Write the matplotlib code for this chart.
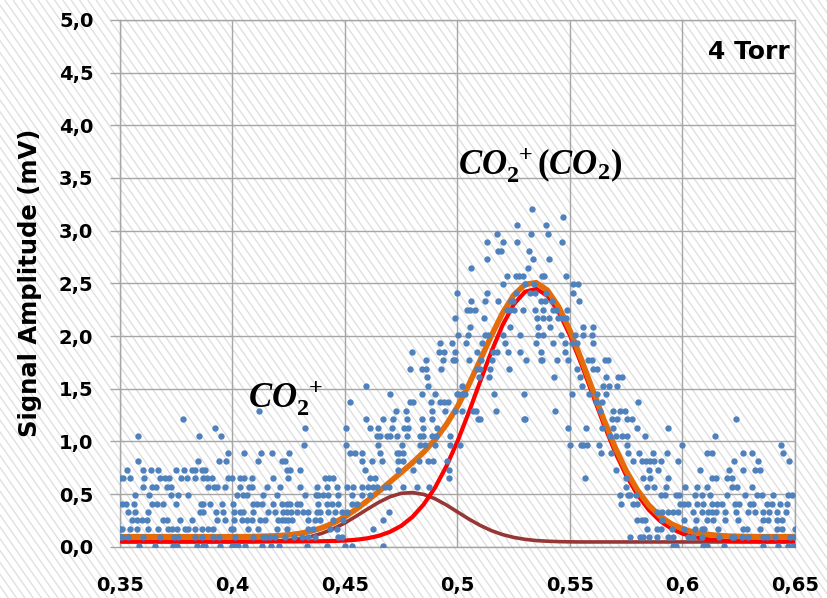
import numpy as np
import matplotlib
matplotlib.use("Agg")
import matplotlib.pyplot as plt
from matplotlib.collections import LineCollection

# quantised signal levels (mV) and the time-of-flight positions (us) of the samples on each level
levels = [0.01, 0.09, 0.17, 0.25, 0.33, 0.41, 0.49, 0.57, 0.65, 0.73,
          0.81, 0.89, 0.97, 1.05, 1.13, 1.21, 1.29, 1.37, 1.45, 1.53,
          1.61, 1.69, 1.77, 1.85, 1.93, 2.01, 2.09, 2.17, 2.25, 2.33,
          2.41, 2.49, 2.57, 2.65, 2.73, 2.81, 2.89, 2.97, 3.05, 3.13, 3.21]

samples = [
    [0.3584, 0.3656, 0.3736, 0.3753, 0.3842, 0.3870, 0.3878, 0.3944, 0.3996, 0.4011, 0.4026, 0.4056,
     0.4130, 0.4170, 0.4208, 0.4330, 0.4419, 0.4500, 0.4530, 0.4670, 0.5958, 0.5970, 0.6089, 0.6111,
     0.6184, 0.6359, 0.6426, 0.6470, 0.6490],
    [0.3500, 0.3509, 0.3536, 0.3602, 0.3678, 0.3740, 0.3758, 0.3833, 0.3864, 0.3912, 0.3941, 0.4011,
     0.4093, 0.4137, 0.4149, 0.4167, 0.4189, 0.4233, 0.4275, 0.4308, 0.4337, 0.4367, 0.4470, 0.4485,
     0.5767, 0.5811, 0.5826, 0.5851, 0.5885, 0.5937, 0.5960, 0.6026, 0.6048, 0.6088, 0.6163, 0.6219,
     0.6229, 0.6263, 0.6293, 0.6356, 0.6377, 0.6411, 0.6478, 0.6496],
    [0.3500, 0.3510, 0.3544, 0.3574, 0.3623, 0.3670, 0.3715, 0.3730, 0.3752, 0.3789, 0.3804, 0.3833,
     0.3866, 0.3892, 0.3912, 0.3992, 0.4004, 0.4070, 0.4115, 0.4196, 0.4244, 0.4337, 0.4359, 0.4433,
     0.4463, 0.4626, 0.5841, 0.5885, 0.5904, 0.5952, 0.6008, 0.6056, 0.6085, 0.6097, 0.6159, 0.6270,
     0.6288, 0.6344, 0.6419, 0.6441, 0.6500],
    [0.3555, 0.3574, 0.3596, 0.3619, 0.3692, 0.3710, 0.3767, 0.3821, 0.3930, 0.3967, 0.4007, 0.4041,
     0.4063, 0.4085, 0.4122, 0.4144, 0.4204, 0.4219, 0.4233, 0.4248, 0.4263, 0.4337, 0.4367, 0.4389,
     0.4448, 0.4493, 0.4670, 0.5800, 0.5819, 0.5833, 0.5910, 0.6008, 0.6059, 0.6107, 0.6137, 0.6189,
     0.6248, 0.6359, 0.6381, 0.6419, 0.6441],
    [0.3534, 0.3567, 0.3623, 0.3856, 0.3870, 0.3927, 0.3959, 0.4008, 0.4033, 0.4048, 0.4093, 0.4159,
     0.4189, 0.4226, 0.4244, 0.4260, 0.4285, 0.4315, 0.4337, 0.4374, 0.4389, 0.4426, 0.4456, 0.4485,
     0.4508, 0.4697, 0.5885, 0.5907, 0.5937, 0.5959, 0.5981, 0.6048, 0.6085, 0.6115, 0.6133, 0.6149,
     0.6189, 0.6238, 0.6293, 0.6322, 0.6356, 0.6386, 0.6419, 0.6460],
    [0.3510, 0.3527, 0.3562, 0.3641, 0.3663, 0.3692, 0.3749, 0.3860, 0.3870, 0.3900, 0.3952, 0.4004,
     0.4093, 0.4108, 0.4130, 0.4181, 0.4219, 0.4241, 0.4256, 0.4285, 0.4300, 0.4381, 0.4419, 0.4441,
     0.4470, 0.4530, 0.4552, 0.5726, 0.5780, 0.5796, 0.5989, 0.6008, 0.6023, 0.6063, 0.6093, 0.6130,
     0.6152, 0.6174, 0.6233, 0.6252, 0.6300, 0.6315, 0.6377, 0.6396, 0.6433, 0.6466],
    [0.3567, 0.3630, 0.3727, 0.3759, 0.3804, 0.4021, 0.4048, 0.4063, 0.4137, 0.4196, 0.4322, 0.4370,
     0.4381, 0.4401, 0.4426, 0.4470, 0.4530, 0.4574, 0.4611, 0.5722, 0.5759, 0.5767, 0.5792, 0.5904,
     0.5922, 0.5970, 0.5984, 0.6056, 0.6088, 0.6122, 0.6196, 0.6278, 0.6330, 0.6352, 0.6404, 0.6470,
     0.6485],
    [0.3601, 0.3641, 0.3659, 0.3708, 0.3727, 0.3892, 0.3919, 0.3932, 0.3967, 0.4033, 0.4075, 0.4088,
     0.4152, 0.4211, 0.4300, 0.4374, 0.4419, 0.4463, 0.4508, 0.4537, 0.4574, 0.4604, 0.4626, 0.4644,
     0.4678, 0.4697, 0.4759, 0.4819, 0.4875, 0.5749, 0.5841, 0.5875, 0.5927, 0.6011, 0.6063, 0.6107,
     0.6219, 0.6241, 0.6308],
    [0.3500, 0.3515, 0.3544, 0.3608, 0.3678, 0.3700, 0.3719, 0.3771, 0.3796, 0.3833, 0.3870, 0.3888,
     0.3910, 0.3981, 0.3999, 0.4033, 0.4052, 0.4085, 0.4179, 0.4248, 0.4411, 0.4429, 0.4448, 0.4611,
     0.4633, 0.4964, 0.5567, 0.5749, 0.5826, 0.5856, 0.5934, 0.6133, 0.6149, 0.6199, 0.6219],
    [0.3532, 0.3604, 0.3638, 0.3670, 0.3749, 0.3786, 0.3821, 0.3833, 0.3866, 0.3878, 0.4244, 0.4256,
     0.4300, 0.4589, 0.4737, 0.4804, 0.4962, 0.5704, 0.5851, 0.5893, 0.6078, 0.6208, 0.6270, 0.6322,
     0.6344],
    [0.3581, 0.3845, 0.3941, 0.3971, 0.4115, 0.4221, 0.4233, 0.4577, 0.4621, 0.4663, 0.4737, 0.4759,
     0.4830, 0.4870, 0.4893, 0.4952, 0.5781, 0.5819, 0.5836, 0.5856, 0.5873, 0.5904, 0.5981, 0.6229,
     0.6337, 0.6475],
    [0.3981, 0.4052, 0.4125, 0.4174, 0.4252, 0.4522, 0.4544, 0.4577, 0.4656, 0.4730, 0.4741, 0.4759,
     0.5637, 0.5681, 0.5759, 0.5807, 0.5870, 0.5930, 0.6107, 0.6133, 0.6270, 0.6308, 0.6445],
    [0.4319, 0.4504, 0.4648, 0.4752, 0.4833, 0.4856, 0.4900, 0.4967, 0.5011, 0.5500, 0.5548, 0.5559,
     0.5574, 0.5630, 0.5755, 0.6000, 0.6438],
    [0.3579, 0.3850, 0.3949, 0.4641, 0.4656, 0.4685, 0.4700, 0.4730, 0.4774, 0.4833, 0.4848, 0.4885,
     0.4904, 0.4967, 0.5678, 0.5704, 0.5730, 0.5755, 0.5833, 0.6144],
    [0.3922, 0.4322, 0.4504, 0.4611, 0.4648, 0.4707, 0.4764, 0.4779, 0.4848, 0.4908, 0.5493, 0.5571,
     0.5641, 0.5690, 0.5796, 0.5937],
    [0.3779, 0.4592, 0.4668, 0.4715, 0.4774, 0.4841, 0.4885, 0.5090, 0.5100, 0.5297, 0.5300, 0.5685,
     0.5708, 0.5755, 0.5774, 0.6238],
    [0.4119, 0.4727, 0.4771, 0.4885, 0.4944, 0.4989, 0.5021, 0.5070, 0.5081, 0.5170, 0.5433, 0.5633,
     0.5690, 0.5722, 0.5744],
    [0.4522, 0.4789, 0.4804, 0.4882, 0.4922, 0.4940, 0.4959, 0.5616, 0.5641, 0.5804],
    [0.4700, 0.4841, 0.4900, 0.4999, 0.5004, 0.5019, 0.5033, 0.5163, 0.5297, 0.5507, 0.5586, 0.5621,
     0.5660],
    [0.4593, 0.4870, 0.5021, 0.5552, 0.5645, 0.5675, 0.5710],
    [0.4863, 0.5096, 0.5140, 0.5429, 0.5544, 0.5659, 0.5715, 0.5730],
    [0.4789, 0.4841, 0.4860, 0.4927, 0.5085, 0.5100, 0.5144, 0.5229, 0.5530, 0.5604, 0.5619],
    [0.4860, 0.4934, 0.4979, 0.4989, 0.5051, 0.5104, 0.5152, 0.5303, 0.5371, 0.5374, 0.5441, 0.5493,
     0.5581, 0.5596, 0.5656, 0.5670],
    [0.4796, 0.4918, 0.4940, 0.4989, 0.5085, 0.5159, 0.5174, 0.5226, 0.5278, 0.5371, 0.5478],
    [0.4922, 0.4974, 0.5037, 0.5110, 0.5211, 0.5349, 0.5426, 0.5478, 0.5507, 0.5530, 0.5601],
    [0.5004, 0.5048, 0.5122, 0.5137, 0.5204, 0.5278, 0.5359, 0.5381, 0.5459, 0.5522, 0.5559, 0.5596],
    [0.5056, 0.5233, 0.5356, 0.5411, 0.5557, 0.5601],
    [0.4989, 0.5119, 0.5352, 0.5381, 0.5408, 0.5448, 0.5463, 0.5482],
    [0.5041, 0.5056, 0.5078, 0.5219, 0.5233, 0.5252, 0.5292, 0.5344, 0.5381, 0.5423, 0.5438, 0.5488],
    [0.5060, 0.5122, 0.5181, 0.5238, 0.5248, 0.5371, 0.5389, 0.5419, 0.5541],
    [0.4996, 0.5132, 0.5259, 0.5322, 0.5344, 0.5393, 0.5515],
    [0.5204, 0.5300, 0.5340, 0.5512, 0.5537],
    [0.5219, 0.5259, 0.5275, 0.5293, 0.5377, 0.5385, 0.5484],
    [0.5060, 0.5312],
    [0.5130, 0.5334, 0.5408],
    [0.5179, 0.5193, 0.5318],
    [0.5132, 0.5201, 0.5263, 0.5463],
    [0.5174, 0.5325, 0.5404],
    [0.5266, 0.5392],
    [0.5468],
    [0.5330],
]

# Gaussian fit curves, tabulated every 0.005 us
fit_x = np.round(np.arange(0.35, 0.6501, 0.005), 3)
fit_dimer = [0.050, 0.050, 0.050, 0.050, 0.050, 0.050, 0.050, 0.050, 0.050, 0.050,
             0.050, 0.050, 0.050, 0.050, 0.050, 0.050, 0.050, 0.051, 0.052, 0.054,
             0.058, 0.066, 0.080, 0.103, 0.141, 0.198, 0.283, 0.402, 0.560, 0.761,
             1.000, 1.274, 1.564, 1.848, 2.102, 2.300, 2.420, 2.448, 2.382, 2.228,
             2.005, 1.736, 1.448, 1.163, 0.901, 0.675, 0.492, 0.350, 0.245, 0.172,
             0.124, 0.092, 0.074, 0.063, 0.056, 0.053, 0.051, 0.050, 0.050, 0.050, 0.050]
fit_monomer = [0.045, 0.045, 0.045, 0.045, 0.045, 0.045, 0.045, 0.045, 0.045, 0.045,
               0.045, 0.045, 0.047, 0.050, 0.054, 0.062, 0.076, 0.097, 0.129, 0.172,
               0.226, 0.290, 0.357, 0.421, 0.474, 0.507, 0.514, 0.496, 0.455, 0.397,
               0.330, 0.263, 0.203, 0.153, 0.115, 0.088, 0.070, 0.058, 0.052, 0.048,
               0.046, 0.045, 0.045, 0.045, 0.045, 0.045, 0.045, 0.045, 0.045, 0.045,
               0.045, 0.045, 0.045, 0.045, 0.045, 0.045, 0.045, 0.045, 0.045, 0.045, 0.045]
fit_total = [0.095, 0.095, 0.095, 0.095, 0.095, 0.095, 0.095, 0.095, 0.095, 0.095,
             0.095, 0.095, 0.097, 0.100, 0.104, 0.112, 0.126, 0.148, 0.181, 0.226,
             0.284, 0.356, 0.437, 0.524, 0.615, 0.705, 0.797, 0.898, 1.015, 1.158,
             1.330, 1.537, 1.767, 2.001, 2.217, 2.388, 2.490, 2.506, 2.434, 2.276,
             2.051, 1.781, 1.493, 1.208, 0.946, 0.720, 0.537, 0.395, 0.290, 0.217,
             0.169, 0.137, 0.119, 0.108, 0.101, 0.098, 0.096, 0.095, 0.095, 0.095, 0.095]

xticks = [0.35, 0.40, 0.45, 0.50, 0.55, 0.60, 0.65]
xtick_labels = ["0,35", "0,4", "0,45", "0,5", "0,55", "0,6", "0,65"]
yticks = [0.0, 0.5, 1.0, 1.5, 2.0, 2.5, 3.0, 3.5, 4.0, 4.5, 5.0]
ytick_labels = ["0,0", "0,5", "1,0", "1,5", "2,0", "2,5", "3,0", "3,5", "4,0", "4,5", "5,0"]

dot_x = np.concatenate([np.array(xs) for xs in samples])
dot_y = np.concatenate([np.full(len(xs), lv) for xs, lv in zip(samples, levels)])

plt.rcParams["mathtext.fontset"] = "custom"
plt.rcParams["mathtext.it"] = "Liberation Serif:italic:bold"
plt.rcParams["mathtext.rm"] = "Liberation Serif:bold"
plt.rcParams["mathtext.bf"] = "Liberation Serif:bold"

grid_c = "#a6a6a6"
W, H = 827, 598

fig = plt.figure(figsize=(W / 100, H / 100), dpi=100)
fig.patch.set_facecolor("white")

# light diagonal stripes behind everything
run = H * 0.70
starts = np.arange(-run, W + 10, 8.3)
stripes = [[(s / W, 1.0), ((s + run) / W, 0.0)] for s in starts]
fig.add_artist(LineCollection(stripes, colors="#e0e0e0", linewidths=1.0,
                              transform=fig.transFigure, zorder=-10))

ax = fig.add_axes([0.1451, 0.0858, 0.8162, 0.8808])
ax.set_facecolor("none")

ax.plot(fit_x, fit_monomer, color="#953735", lw=2.6, solid_capstyle="butt", zorder=2)
ax.plot(fit_x, fit_dimer, color="#ff0000", lw=3.0, solid_capstyle="butt", zorder=3)
ax.plot(fit_x, fit_total, color="#e46c0a", lw=4.0, solid_capstyle="butt", zorder=4)
ax.scatter(dot_x, dot_y, s=21, color="#4f81bd", linewidths=0, zorder=5)

ax.set_xlim(0.35, 0.65)
ax.set_ylim(0, 5)
ax.set_xticks(xticks)
ax.set_xticklabels(xtick_labels)
ax.set_yticks(yticks)
ax.set_yticklabels(ytick_labels)
ax.grid(True, color=grid_c, lw=1.0)
ax.set_axisbelow(True)
for sp in ax.spines.values():
    sp.set_color(grid_c)
    sp.set_linewidth(1.0)

ax.tick_params(axis="x", length=0, pad=21)
ax.tick_params(axis="y", length=7.2, width=1.0, color=grid_c, pad=12)
for lab in ax.get_xticklabels() + ax.get_yticklabels():
    lab.set_fontfamily("DejaVu Sans")
    lab.set_fontweight("bold")
    lab.set_fontsize(14)

fig.text(30 / W, 0.527, "Signal Amplitude (mV)", rotation=90, ha="center", va="center",
         fontsize=17.5, fontweight="bold", family="DejaVu Sans")

ax.text(0.6478, 4.63, "4 Torr", ha="right", va="baseline", fontsize=18,
        fontweight="bold", family="DejaVu Sans")
ax.text(0.5002, 3.53, r"$CO_2^{\ +}(CO_2)$", ha="left", va="baseline", fontsize=25)
ax.text(0.4069, 1.325, r"$CO_2^{\ +}$", ha="left", va="baseline", fontsize=25)

fig.savefig("out.png", dpi=100)
